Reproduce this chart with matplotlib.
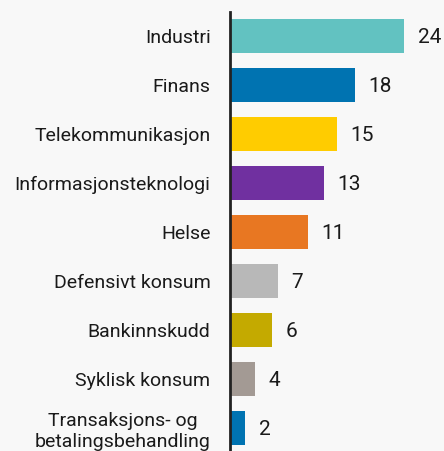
import numpy as np
import matplotlib.pyplot as plt

categories = ['Industri', 'Finans', 'Telekommunikasjon', 'Informasjonsteknologi',
              'Helse', 'Defensivt konsum', 'Bankinnskudd', 'Syklisk konsum',
              'Transaksjons- og\nbetalingsbehandling']
values = [24.4, 17.5, 15.0, 13.2, 10.9, 6.7, 5.9, 3.5, 2.1]
value_labels = ['24', '18', '15', '13', '11', '7', '6', '4', '2']
colors = ['#62c2c1', '#0073b1', '#ffcc00', '#7030a0', '#e87722',
          '#b8b8b8', '#c4aa00', '#a39a94', '#0073b1']

plt.rcParams['font.family'] = ['Roboto', 'DejaVu Sans']

fig = plt.figure(figsize=(4.44, 4.51), dpi=100, facecolor='#f8f8f8')
ax = fig.add_axes([230 / 444, 0, 214 / 444, 439 / 451])
ax.set_facecolor('#f8f8f8')

y = np.arange(len(categories))
ax.barh(y, values, height=0.69, color=colors)

for yi, v, lab in zip(y, values, value_labels):
    ax.text(v + 1.9, yi + 0.04, lab, va='center', ha='left', fontsize=15, color='#1a1a1a')

ax.set_xlim(0, 30)
ax.set_ylim(8.47, -0.49)
ax.set_yticks(y)
ax.set_yticklabels(categories, fontsize=14, color='#1a1a1a', multialignment='center',
                   linespacing=1.25)
ax.tick_params(axis='y', length=0, pad=14)
ax.set_xticks([])

for s in ['top', 'right', 'bottom']:
    ax.spines[s].set_visible(False)
ax.spines['left'].set_linewidth(2)
ax.spines['left'].set_color('#222222')

fig.savefig('out.png', dpi=100, facecolor=fig.get_facecolor())
